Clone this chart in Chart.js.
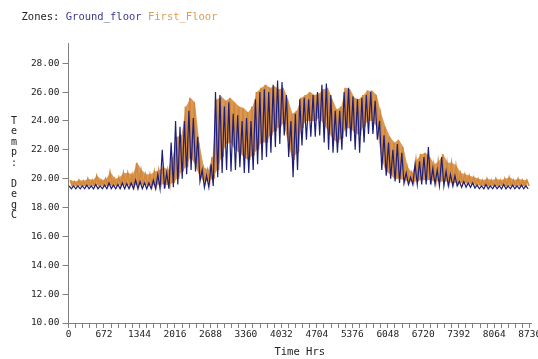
<!DOCTYPE html>
<html lang="en">
<head>
<meta charset="UTF-8">
<title>Zones: Ground_floor First_Floor</title>
<script src="https://cdn.jsdelivr.net/npm/chart.js@4"></script>
<style>
  body { margin: 0; overflow: hidden; background: #fff; }
</style>
</head>
<body>
<canvas id="grafico" width="545" height="359"></canvas>
<script>
// each bin is 84 hours: daily highs and lows of each zone over the bin
const binHours = 84;

const groundHi = [19.5,19.5,19.5,19.5,19.55,19.5,19.6,19.5,19.55,19.7,19.55,19.6,19.7,19.65,19.7,19.9,19.8,19.7,19.7,19.9,
  20.3,22.0,20.4,22.5,24.0,23.6,24.0,24.7,24.2,22.9,20.6,20.2,21.0,26.0,25.8,25.0,25.3,24.5,24.4,24.0,
  24.2,24.0,25.5,26.0,26.2,26.0,26.5,26.8,26.7,25.8,24.0,24.5,25.5,25.6,25.5,25.8,26.0,26.5,26.6,25.8,
  24.7,24.7,26.0,26.3,25.7,25.5,25.6,25.8,26.0,25.4,24.0,23.0,22.5,22.0,22.4,21.8,20.4,20.1,21.0,21.2,
  21.5,22.2,20.7,20.6,21.5,20.5,20.3,20.2,19.8,19.8,19.7,19.7,19.55,19.5,19.6,19.5,19.55,19.5,19.6,19.5,
  19.55,19.5,19.55,19.5];
const groundLo = [19.3,19.3,19.3,19.3,19.3,19.3,19.3,19.3,19.3,19.3,19.3,19.3,19.3,19.3,19.3,19.3,19.3,19.3,19.3,19.3,
  19.3,19.3,19.3,19.4,19.6,20.0,20.3,20.6,20.5,19.8,19.4,19.4,19.5,20.1,20.4,20.6,20.5,20.6,20.8,20.4,
  20.4,20.6,21.0,21.3,21.5,21.8,22.2,22.4,23.0,21.5,20.1,20.6,22.3,22.7,22.9,22.9,23.0,22.5,22.0,21.8,
  21.8,22.0,22.9,22.6,22.0,21.8,22.5,23.1,23.1,22.7,20.6,20.2,20.0,19.8,19.7,19.7,19.6,19.6,19.6,19.6,
  19.6,19.6,19.6,19.5,19.5,19.5,19.5,19.5,19.4,19.4,19.4,19.35,19.3,19.3,19.3,19.3,19.3,19.3,19.3,19.3,
  19.3,19.3,19.3,19.3];

const firstHi = [19.9,19.8,19.9,19.85,20.0,19.9,20.2,19.9,20.0,20.45,20.0,20.1,20.4,20.4,20.3,21.1,20.6,20.3,20.3,20.5,
  20.6,20.8,20.6,21.5,22.9,23.0,25.0,25.6,25.3,22.5,20.8,20.6,21.5,25.5,25.7,25.4,25.6,25.3,25.0,24.9,
  24.6,25.0,26.0,26.3,26.5,26.3,26.4,26.2,26.3,25.5,24.5,24.7,25.6,25.8,26.0,25.8,25.9,26.2,26.3,25.5,
  24.8,25.0,26.3,26.2,25.6,25.5,25.8,26.1,26.1,25.8,24.5,23.6,22.9,22.5,22.7,22.2,20.8,20.4,21.3,21.7,
  21.8,21.5,21.0,21.2,21.7,21.1,21.1,20.9,20.4,20.3,20.2,20.1,20.0,19.9,20.0,19.9,20.0,19.9,20.0,20.1,
  19.9,20.0,19.9,19.9];
const firstLo = [19.5,19.5,19.5,19.5,19.5,19.5,19.55,19.5,19.5,19.55,19.5,19.55,19.55,19.55,19.55,19.55,19.6,19.55,19.55,19.55,
  19.6,19.6,19.55,19.7,20.0,20.5,20.8,21.5,21.0,20.2,19.8,19.8,20.0,20.6,21.5,22.4,22.5,22.0,21.8,21.5,
  21.3,21.6,22.0,22.5,22.5,23.0,23.3,23.6,23.8,22.5,21.3,21.8,23.5,24.0,24.0,24.0,24.2,23.8,23.3,22.8,
  22.5,22.8,23.5,23.5,23.2,23.0,23.6,24.0,24.0,23.6,21.5,20.5,20.3,20.0,20.0,19.9,19.8,19.8,19.8,19.9,
  19.9,19.9,19.8,19.8,19.8,19.8,19.7,19.7,19.7,19.7,19.65,19.6,19.55,19.5,19.5,19.5,19.5,19.5,19.5,19.5,
  19.5,19.5,19.5,19.5];

const yTicks = [10, 12, 14, 16, 18, 20, 22, 24, 26, 28];
const xMinorStep = 134.4;   // five minor steps per 672 h label
const xMax = 8760;

const navy = '#1f1f78';
const orange = '#d4883a';
const axisGrey = '#808080';
const mono = '"DejaVu Sans Mono", "Liberation Mono", monospace';

// bin centre points, used for the filled spread of a zone
function binPoints(vals) {
  return vals.map(function (v, i) { return { x: i * binHours + binHours / 2, y: v }; });
}

// high then low inside every bin, drawn as one trace
function swing(hi, lo, shift) {
  const pts = [];
  for (let i = 0; i < hi.length; i++) {
    pts.push({ x: i * binHours + shift, y: hi[i] });
    pts.push({ x: i * binHours + shift + binHours / 2, y: lo[i] });
  }
  return pts;
}

// header line and the stacked y title
const textBits = {
  id: 'textBits',
  afterDraw(chart) {
    const ctx = chart.ctx;
    ctx.save();
    ctx.font = '10.5px ' + mono;
    ctx.textBaseline = 'middle';
    ctx.textAlign = 'left';
    let x = 21.5;
    const parts = [['Zones: ', '#222'], ['Ground_floor ', '#3b3b8c'], ['First_Floor', '#de9a55']];
    parts.forEach(function (p) {
      ctx.fillStyle = p[1];
      ctx.fillText(p[0], x, 17);
      x += ctx.measureText(p[0]).width;
    });

    ctx.fillStyle = '#222';
    ctx.textAlign = 'center';
    ctx.font = '10px ' + mono;
    'Temp: DegC'.split('').forEach(function (c, i) {
      if (c !== ' ') ctx.fillText(c, 14, 121 + i * 10.5);
    });
    ctx.restore();
  }
};

const plain = { pointRadius: 0, tension: 0 };

new Chart(document.getElementById('grafico'), {
  type: 'line',
  data: {
    datasets: [
      // Ground_floor trace, on top
      Object.assign({ label: 'Ground_floor', data: swing(groundHi, groundLo, 12),
        borderColor: navy, borderWidth: 1.2, fill: false, order: 0 }, plain),
      // First_Floor trace plus its filled spread underneath
      Object.assign({ label: 'First_Floor', data: swing(firstHi, firstLo, 30),
        borderColor: orange, borderWidth: 1.5, fill: false, order: 1 }, plain),
      Object.assign({ label: 'First_Floor high', data: binPoints(firstHi), borderWidth: 0,
        borderColor: 'rgba(0,0,0,0)', backgroundColor: 'rgba(212,136,58,0.85)', fill: '+1', order: 2 }, plain),
      Object.assign({ label: 'First_Floor low', data: binPoints(firstLo), borderWidth: 0,
        borderColor: 'rgba(0,0,0,0)', fill: false, order: 2 }, plain)
    ]
  },
  options: {
    responsive: false,
    animation: false,
    devicePixelRatio: 1,
    layout: { padding: { left: 30, top: 43, right: 14, bottom: 0 } },
    plugins: { legend: { display: false }, tooltip: { enabled: false } },
    scales: {
      x: {
        type: 'linear',
        min: 0,
        max: xMax,
        afterBuildTicks(scale) {
          const t = [];
          for (let k = 0; k * xMinorStep <= 8736 + 0.1; k++) t.push({ value: k * xMinorStep });
          scale.ticks = t;
        },
        afterFit(scale) { scale.height = 36; },
        grid: { drawOnChartArea: false, drawTicks: true, tickLength: 5, color: axisGrey },
        border: { display: true, color: axisGrey, width: 1 },
        ticks: {
          autoSkip: false,
          maxRotation: 0,
          padding: 1,
          color: '#222',
          font: { family: mono, size: 9.5 },
          callback(value) {
            const k = Math.round(value / xMinorStep);
            return k % 5 === 0 ? String(Math.round(k * xMinorStep)) : '';
          }
        },
        title: {
          display: true,
          text: 'Time Hrs',
          color: '#222',
          font: { family: mono, size: 10.5 },
          padding: { top: 0, bottom: 0 }
        }
      },
      y: {
        min: 10,
        max: 29.4,
        afterBuildTicks(scale) {
          scale.ticks = yTicks.map(function (v) { return { value: v }; });
        },
        afterFit(scale) { scale.width = 38.5; },
        grid: { drawOnChartArea: false, drawTicks: true, tickLength: 6, color: axisGrey },
        border: { display: true, color: axisGrey, width: 1 },
        ticks: {
          padding: 3,
          color: '#222',
          font: { family: mono, size: 9.5 },
          callback(value) { return Number(value).toFixed(2); }
        }
      }
    }
  },
  plugins: [textBits]
});
</script>
</body>
</html>
